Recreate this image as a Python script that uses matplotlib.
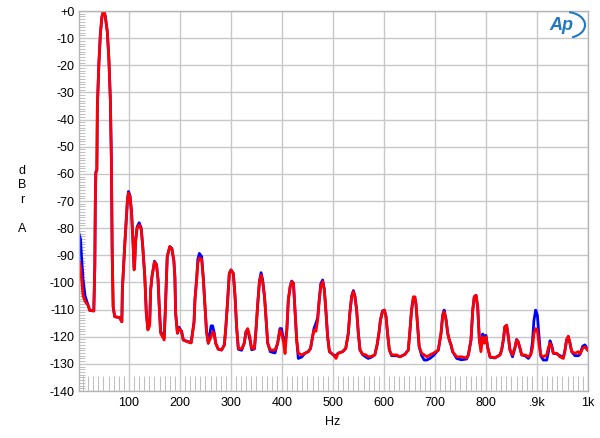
import numpy as np
import matplotlib.pyplot as plt
from matplotlib.patches import Arc

plt.rcParams['font.family'] = ['Liberation Sans', 'DejaVu Sans']

# frequency points (Hz)
freq = [2, 5, 7, 10, 14, 20, 23, 31, 33, 34, 35, 37, 38, 41, 44, 47, 49.5, 51,
        53.5, 57.5, 60.5, 63.5, 65.5, 67, 69, 72, 82, 86, 87, 91.5, 95, 97, 99,
        102, 105, 108, 110, 111, 113, 116, 120, 124, 127, 131, 134, 137, 140.5,
        142.5, 145, 150, 154, 157, 159, 162, 169, 171, 175, 180, 184, 188, 190,
        191.5, 195, 198, 203, 206.5, 216, 222, 227.5, 229.4, 232.7, 235, 238,
        242.5, 245.8, 249, 252, 255.5, 261, 264, 267, 270, 275, 281.6, 287, 290,
        293.5, 296.7, 300, 304.6, 308, 311, 314.4, 321, 326, 329.4, 332.7, 337,
        340.5, 346, 349, 352.5, 355.8, 359, 362, 365.8, 369, 372, 377, 386.3,
        391.5, 396, 399, 403, 406, 409.5, 412.4, 416, 419, 422.5, 425.5, 428.8,
        432, 438.5, 445, 451.6, 456, 460, 462.7, 466.6, 470, 473, 476, 479.7,
        483, 486, 489.5, 493, 500.7, 506, 510, 519, 525, 530, 533, 536.6, 540,
        543, 546.4, 549.7, 553, 558, 564.7, 569, 575.7, 582, 586.5, 590, 593,
        597, 600.7, 604, 607, 610.5, 615, 624.8, 631.4, 641, 647.7, 651, 654,
        657.5, 660.8, 662.7, 666, 669, 673.9, 679, 683.7, 690, 696.7, 706.5,
        711.8, 715, 718, 721.6, 725, 728, 731.4, 734.6, 742.5, 752, 762, 765.4,
        770.6, 774, 777, 780.4, 783.7, 787, 790, 793.5, 796.7, 800, 803, 808,
        817.6, 827.5, 830.7, 834, 837, 840.5, 843.8, 847, 852, 857, 860, 863,
        866.7, 870, 876.5, 883, 887.6, 891, 894, 897.4, 900.7, 904, 907.2,
        912.4, 919, 922, 925.5, 928.8, 932, 938.6, 945, 951.6, 955, 958, 961.4,
        964.7, 968, 974.5, 981, 984.3, 989.5, 994, 998.7, 1000]

# right channel (red), dBrA
red = [-92, -94, -99, -105, -107, -108.5, -110.3, -110.5, -94, -70, -59.5, -58.5,
       -35.3, -19.3, -8.2, -2.1, -0.3, 0, -2, -7.6, -17.4, -32.8, -55, -88, -109,
       -112.6, -113, -114.5, -102.8, -86.8, -75.8, -69.6, -67, -68.5, -74, -85.6,
       -95.4, -94, -85, -80, -78.8, -80.5, -86.8, -97.9, -111.4, -117.5, -116,
       -102.8, -98, -92.4, -93.5, -99, -107.6, -118.7, -121.2, -111.4, -90.5,
       -86.8, -87.5, -92, -98, -111.4, -118.7, -117, -118, -121.2, -122, -122.3,
       -115, -106.5, -99, -92.9, -91, -91.5, -99, -108.5, -118, -122.4,
       -120, -118.2, -118.8, -122.4, -124.6, -124.9, -123, -116.3, -106.5, -96.7,
       -95.4, -96.7, -105.3, -116.3, -124.3, -124.5, -122.4, -118.2, -117, -120.1,
       -124.3, -124.3, -117.5, -107.7, -99.7, -97.3, -99.7, -105.3, -113.9,
       -122.4, -124.9, -124.9, -122.4, -117.5, -118.8, -122, -126.2, -117.5,
       -106.5, -101.6, -99.7, -100.3, -110.2, -121.2, -126.1, -126.7, -126.1,
       -125.5, -124.3, -120, -117.5, -118, -113.9, -106.5, -101.6, -99.7, -102.8,
       -110.2, -120, -125.5, -126.7, -128, -126.1, -125.5, -124.3, -118.8, -111.4,
       -105.3, -103.4, -105.3, -110.2, -118.8, -124.9, -126.4, -126.7, -127.4,
       -127.2, -126.7, -123, -118.8, -113.9, -110.8, -110.2, -112.6, -118.8,
       -124.9, -126.7, -126.7, -127.4, -126.5, -124.9, -117.5, -110.2, -105.3,
       -105.3, -107.8, -116.3, -123.7, -126.1, -126.7, -127.4, -126.7, -126.1,
       -124.9, -118.8, -112.6, -110.8, -113.9, -118.8, -121.2, -123, -125.5,
       -127.4, -127.4, -127.8, -126.7, -121.2, -110.2, -105.3, -104.7, -109,
       -121.2, -125.5, -120, -122.4, -120, -123.7, -127.4, -127.8, -126.7, -124.9,
       -121.2, -116.3, -115.7, -120, -124.9, -126.7, -123.7, -121.2, -121.8,
       -124.3, -126.7, -126.7, -127.4, -126.7, -124.3, -118.8, -117, -117.5, -123,
       -126.7, -127.4, -126.7, -124.3, -122.4, -123.7, -126.1, -126.1, -127.4,
       -128, -124.9, -121.2, -119.8, -122.4, -125.5, -126.1, -125.5, -126.4,
       -124.3, -123.7, -124.9, -125]

# left channel (blue), dBrA
blue = [-82, -84, -90.5, -99, -105, -108.5, -110.3, -110.5, -94, -70, -59.5, -58.5,
        -35.3, -19.3, -8.2, -2.1, -0.3, 0, -2, -7.6, -17.4, -32.8, -55, -88, -109,
        -112.6, -113, -114.5, -102.8, -86.8, -75.8, -69.6, -66.5, -68, -74, -85.6,
        -94.5, -93.5, -84.5, -79.5, -78, -80, -86.8, -97.9, -111.4, -117, -115.5,
        -102.8, -98, -92.2, -93.5, -99, -107.6, -118, -120.5, -111.4, -90.5,
        -86.8, -87.5, -92, -98, -111.4, -118.7, -116.5, -118, -121.2, -121.8,
        -122, -114.5, -106, -98.5, -91.5, -89.3, -90.5, -98.5, -108.5, -118, -122.4,
        -116, -116, -118.5, -122.4, -124.6, -124.9, -123, -116.3, -106.5, -96.7,
        -95.4, -96.7, -105.3, -116.3, -124.6, -125, -122.4, -118.2, -117.5, -121,
        -124.8, -124.5, -117.5, -107.7, -99.5, -96.4, -99, -105.3, -113.9, -122.4,
        -125.5, -126, -122.4, -117, -117, -121, -123, -117.5, -106.5, -101.6,
        -99.5, -100.3, -110.2, -121.2, -128, -127.5, -126.1, -125.5, -124.3, -120,
        -117, -115, -113, -106.5, -100.5, -99.1, -102.5, -110.2, -120, -125.5,
        -126.7, -127, -126.1, -125.5, -124.3, -118.8, -111.4, -105, -103, -105,
        -110.2, -118.8, -124.9, -126.6, -127.5, -128, -127.5, -126.7, -123, -118.8,
        -113.9, -110.5, -110.2, -112.6, -118.8, -124.9, -127, -127, -127.4, -126.5,
        -124.9, -117.5, -110.2, -106, -106, -108, -116.3, -123.7, -127, -128.6,
        -128.6, -128, -127, -124.9, -118.8, -112, -110.2, -113.5, -118.8, -121.2,
        -123, -125.5, -128, -128.5, -128.2, -126.7, -121.2, -110.2, -105.3, -104.7,
        -109, -121.2, -124, -119, -120, -119.5, -123.7, -127.6, -127.8, -126.7,
        -124.9, -121.2, -116.3, -116, -120, -124.9, -127.4, -124, -121, -121.8,
        -124.3, -126.7, -127, -128, -126.7, -122, -114, -110.2, -112, -120, -127,
        -128.6, -128.6, -126, -121.5, -123.2, -126.1, -126.3, -127, -127.6, -124.9,
        -121.2, -120, -122.4, -125.5, -127, -127, -126.5, -123.5, -123, -124.5,
        -125]

fig = plt.figure(figsize=(6, 4.38), dpi=100)
ax = fig.add_axes([79 / 600, 1 - 391 / 438, 509 / 600, 380 / 438])

ax.plot(freq, blue, color='#0000ff', linewidth=2)
ax.plot(freq, red, color='#ff0000', linewidth=2)

ax.set_xlim(2, 1000)
ax.set_ylim(-140, 0)

ax.set_xticks(np.arange(100, 1001, 100))
ax.set_xticklabels(['100', '200', '300', '400', '500', '600', '700', '800', '.9k', '1k'])
ax.set_yticks(np.arange(-140, 1, 10))
ax.set_yticklabels(['-140', '-130', '-120', '-110', '-100', '-90', '-80', '-70', '-60',
                    '-50', '-40', '-30', '-20', '-10', '+0'])
ax.tick_params(axis='y', which='major', length=0, labelsize=9, colors='black', pad=3)
ax.tick_params(axis='x', which='major', length=0, labelsize=9, colors='black', pad=4)

ax.set_xticks(np.arange(10, 1000, 10), minor=True)
ax.set_yticks(np.arange(-140, 0, 1), minor=True)
ax.tick_params(axis='x', which='minor', direction='in', length=11, width=0.6, color='#b4b4b4')
ax.tick_params(axis='y', which='minor', direction='in', length=4, width=0.6, color='#b4b4b4')

ax.grid(True, which='major', color='#c8c8c8', linewidth=1)
ax.set_axisbelow(True)
for s in ax.spines.values():
    s.set_color('#b4b4b4')
    s.set_linewidth(1)

fig.text(333 / 600, 1 - 422 / 438, 'Hz', ha='center', va='center', fontsize=9)
fig.text(22 / 600, 1 - 200 / 438, 'd\nB\nr\n\nA', ha='center', va='center',
         fontsize=9, linespacing=1.3)

# Audio Precision logo
fig.text(561 / 600, 1 - 26 / 438, 'Ap', ha='center', va='center', fontsize=13,
         fontstyle='italic', fontweight='bold', color='#1f78c1')
arc = Arc((566 / 600, 1 - 25 / 438), 38 / 600, 26 / 438, theta1=-70, theta2=80,
          transform=fig.transFigure, color='#1f78c1', linewidth=1.5)
fig.add_artist(arc)

fig.savefig('out.png', dpi=100)
